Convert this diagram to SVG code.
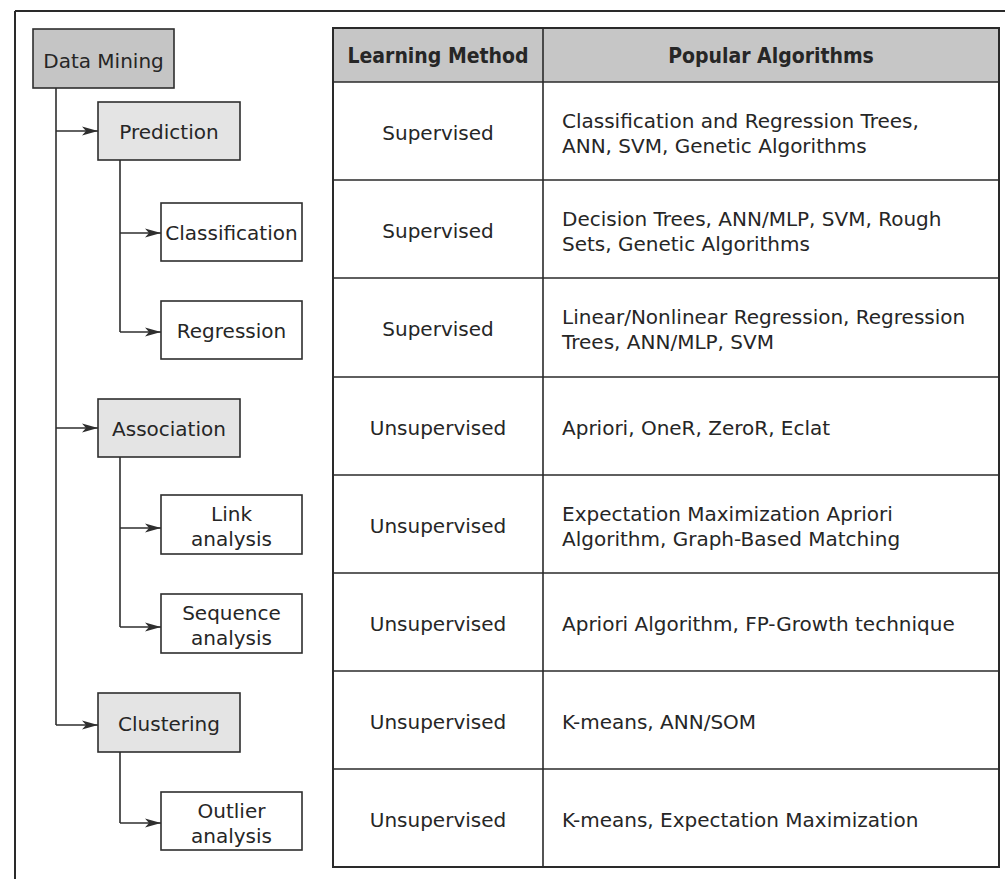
<svg xmlns="http://www.w3.org/2000/svg" width="1005" height="879" viewBox="0 0 1005 879">
  <style>
    .txt { font-family: "DejaVu Sans", "Liberation Sans", sans-serif; font-size: 20px; fill: #262626; }
    .mid { text-anchor: middle; }
    .hdr { font-family: "DejaVu Sans Condensed", "DejaVu Sans", sans-serif; font-stretch: condensed; font-weight: bold; font-size: 21px; fill: #262626; text-anchor: middle; }
    .box { stroke: #2e2e2e; stroke-width: 1.6; }
    .root { fill: #c5c5c5; }
    .cat { fill: #e4e4e4; }
    .leaf { fill: #ffffff; }
    .wire { fill: none; stroke: #2e2e2e; stroke-width: 1.6; }
    .grid { stroke: #2a2a2a; stroke-width: 1.6; }
  </style>
  <defs>
    <marker id="arrow" markerUnits="userSpaceOnUse" markerWidth="17" markerHeight="11" refX="16" refY="5.5" orient="auto">
      <path d="M0,1 L16,5.5 L0,10 L4,5.5 z" fill="#2e2e2e"/>
    </marker>
  </defs>

  <rect width="1005" height="879" fill="#ffffff"/>

  <!-- outer frame (top and left edges) -->
  <g id="frame" fill="none" stroke="#2a2a2a" stroke-width="2">
    <line x1="15" y1="11" x2="1005" y2="11"/>
    <line x1="15" y1="11" x2="15" y2="879"/>
  </g>

  <!-- connectors of the hierarchy -->
  <g id="connectors" class="wire">
    <line x1="56" y1="88" x2="56" y2="725"/>
    <line x1="56" y1="131" x2="98" y2="131" marker-end="url(#arrow)"/>
    <line x1="56" y1="428" x2="98" y2="428" marker-end="url(#arrow)"/>
    <line x1="56" y1="725" x2="98" y2="725" marker-end="url(#arrow)"/>

    <line x1="120" y1="160" x2="120" y2="332"/>
    <line x1="120" y1="233" x2="161" y2="233" marker-end="url(#arrow)"/>
    <line x1="120" y1="332" x2="161" y2="332" marker-end="url(#arrow)"/>

    <line x1="120" y1="457" x2="120" y2="627"/>
    <line x1="120" y1="528" x2="161" y2="528" marker-end="url(#arrow)"/>
    <line x1="120" y1="627" x2="161" y2="627" marker-end="url(#arrow)"/>

    <line x1="120" y1="752" x2="120" y2="823"/>
    <line x1="120" y1="823" x2="161" y2="823" marker-end="url(#arrow)"/>
  </g>

  <!-- hierarchy nodes -->
  <g id="node-data-mining">
    <rect class="box root" x="33" y="29" width="141" height="59"/>
    <text class="txt mid" x="103.5" y="68">Data Mining</text>
  </g>
  <g id="node-prediction">
    <rect class="box cat" x="98" y="102" width="142" height="58"/>
    <text class="txt mid" x="169" y="139">Prediction</text>
  </g>
  <g id="node-classification">
    <rect class="box leaf" x="161" y="203" width="141" height="58"/>
    <text class="txt mid" x="231.5" y="240">Classification</text>
  </g>
  <g id="node-regression">
    <rect class="box leaf" x="161" y="301" width="141" height="58"/>
    <text class="txt mid" x="231.5" y="338">Regression</text>
  </g>
  <g id="node-association">
    <rect class="box cat" x="98" y="399" width="142" height="58"/>
    <text class="txt mid" x="169" y="436">Association</text>
  </g>
  <g id="node-link-analysis">
    <rect class="box leaf" x="161" y="495" width="141" height="59"/>
    <text class="txt mid" x="231.5" y="521">Link</text>
    <text class="txt mid" x="231.5" y="546">analysis</text>
  </g>
  <g id="node-sequence-analysis">
    <rect class="box leaf" x="161" y="594" width="141" height="59"/>
    <text class="txt mid" x="231.5" y="620">Sequence</text>
    <text class="txt mid" x="231.5" y="645">analysis</text>
  </g>
  <g id="node-clustering">
    <rect class="box cat" x="98" y="693" width="142" height="59"/>
    <text class="txt mid" x="169" y="731">Clustering</text>
  </g>
  <g id="node-outlier-analysis">
    <rect class="box leaf" x="161" y="792" width="141" height="58"/>
    <text class="txt mid" x="231.5" y="818">Outlier</text>
    <text class="txt mid" x="231.5" y="843">analysis</text>
  </g>

  <!-- table of learning methods and algorithms -->
  <g id="table">
    <rect x="333" y="28" width="666" height="54" fill="#c6c6c6"/>
    <g class="grid">
      <rect x="333" y="28" width="666" height="839" fill="none" stroke-width="2"/>
      <line x1="543" y1="28" x2="543" y2="867"/>
      <line x1="333" y1="82" x2="999" y2="82"/>
      <line x1="333" y1="180" x2="999" y2="180"/>
      <line x1="333" y1="278" x2="999" y2="278"/>
      <line x1="333" y1="377" x2="999" y2="377"/>
      <line x1="333" y1="475" x2="999" y2="475"/>
      <line x1="333" y1="573" x2="999" y2="573"/>
      <line x1="333" y1="671" x2="999" y2="671"/>
      <line x1="333" y1="769" x2="999" y2="769"/>
    </g>
    <text class="hdr" x="438" y="63">Learning Method</text>
    <text class="hdr" x="771" y="63">Popular Algorithms</text>

    <g class="txt">
      <text class="mid" x="438" y="140">Supervised</text>
      <text x="562" y="128">Classification and Regression Trees,</text>
      <text x="562" y="153">ANN, SVM, Genetic Algorithms</text>

      <text class="mid" x="438" y="238">Supervised</text>
      <text x="562" y="226">Decision Trees, ANN/MLP, SVM, Rough</text>
      <text x="562" y="251">Sets, Genetic Algorithms</text>

      <text class="mid" x="438" y="336">Supervised</text>
      <text x="562" y="324">Linear/Nonlinear Regression, Regression</text>
      <text x="562" y="349">Trees, ANN/MLP, SVM</text>

      <text class="mid" x="438" y="435">Unsupervised</text>
      <text x="562" y="435">Apriori, OneR, ZeroR, Eclat</text>

      <text class="mid" x="438" y="533">Unsupervised</text>
      <text x="562" y="521">Expectation Maximization Apriori</text>
      <text x="562" y="546">Algorithm, Graph-Based Matching</text>

      <text class="mid" x="438" y="631">Unsupervised</text>
      <text x="562" y="631">Apriori Algorithm, FP-Growth technique</text>

      <text class="mid" x="438" y="729">Unsupervised</text>
      <text x="562" y="729">K-means, ANN/SOM</text>

      <text class="mid" x="438" y="827">Unsupervised</text>
      <text x="562" y="827">K-means, Expectation Maximization</text>
    </g>
  </g>
</svg>
